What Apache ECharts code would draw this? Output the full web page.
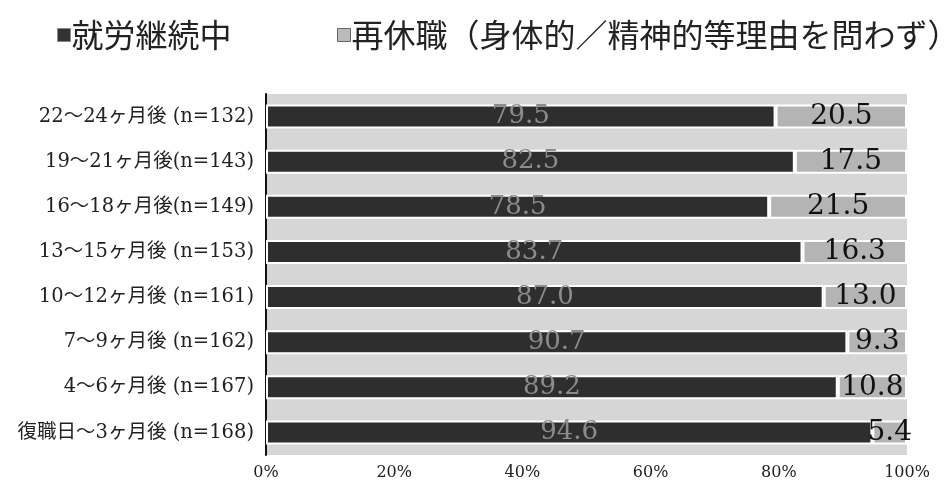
<!DOCTYPE html>
<html><head><meta charset="utf-8">
<script src="https://cdn.jsdelivr.net/npm/echarts@6/dist/echarts.min.js"></script>
<style>html,body{margin:0;padding:0;background:#fff}#c{width:946px;height:492px}</style>
</head><body><div id="c"></div>
<script>
var categories = ["22～24ヶ月後 (n=132)","19～21ヶ月後(n=143)","16～18ヶ月後(n=149)","13～15ヶ月後 (n=153)","10～12ヶ月後 (n=161)","7～9ヶ月後 (n=162)","4～6ヶ月後 (n=167)","復職日～3ヶ月後 (n=168)"];
var continuing = [79.5, 82.5, 78.5, 83.7, 87.0, 90.7, 89.2, 94.6];
var reLeave = [20.5, 17.5, 21.5, 16.3, 13.0, 9.3, 10.8, 5.4];
var seriesNames = ["就労継続中", "再休職（身体的／精神的等理由を問わず）"];
var xTicks = [0, 20, 40, 60, 80, 100];

var serif = "'DejaVu Serif','Noto Sans CJK JP',serif";
var legendText = {fontFamily: "'Noto Sans CJK JP',sans-serif", fontSize: 32, color: '#222', padding: [0, 0, 0, -4]};
var chart = echarts.init(document.getElementById('c'));
chart.setOption({
  animation: false,
  backgroundColor: '#ffffff',
  legend: [
    {left: 52, top: 14, itemWidth: 13, itemHeight: 13, icon: 'rect', textStyle: legendText,
     data: [{name: seriesNames[0], itemStyle: {color: '#333', borderColor: '#888', borderWidth: 1}}]},
    {left: 332, top: 14, itemWidth: 13, itemHeight: 13, icon: 'rect', textStyle: legendText,
     data: [{name: seriesNames[1], itemStyle: {color: '#bbb', borderColor: '#666', borderWidth: 1}}]}
  ],
  grid: {left: 266, right: 39, top: 94, bottom: 37, show: true, backgroundColor: '#d6d6d6', borderWidth: 0},
  xAxis: {
    type: 'value', min: 0, max: 100, interval: 20,
    axisLine: {show: false}, axisTick: {show: false}, splitLine: {show: false},
    axisLabel: {margin: 10, fontFamily: serif, fontSize: 16, color: '#222', formatter: function(v){return xTicks.indexOf(v) >= 0 ? v + '%' : '';}}
  },
  yAxis: {
    type: 'category', inverse: true, data: categories,
    axisLine: {show: true, lineStyle: {color: '#111', width: 2}}, axisTick: {show: false},
    axisLabel: {margin: 12, fontFamily: serif, fontSize: 19.5, color: '#222'}
  },
  series: [
    {name: seriesNames[0], type: 'bar', stack: 't', data: continuing, barWidth: 24,
     itemStyle: {color: '#2e2e2e', borderColor: '#fff', borderWidth: 2},
     label: {show: true, position: 'inside', fontFamily: serif, fontSize: 26, color: '#8c8c8c', formatter: function(p){return p.value.toFixed(1);}}},
    {name: seriesNames[1], type: 'bar', stack: 't', data: reLeave, barWidth: 24,
     itemStyle: {color: '#b4b4b4', borderColor: '#fff', borderWidth: 2},
     label: {show: true, position: 'inside', fontFamily: serif, fontSize: 28, color: '#111', formatter: function(p){return p.value.toFixed(1);}}}
  ]
});
</script></body></html>
